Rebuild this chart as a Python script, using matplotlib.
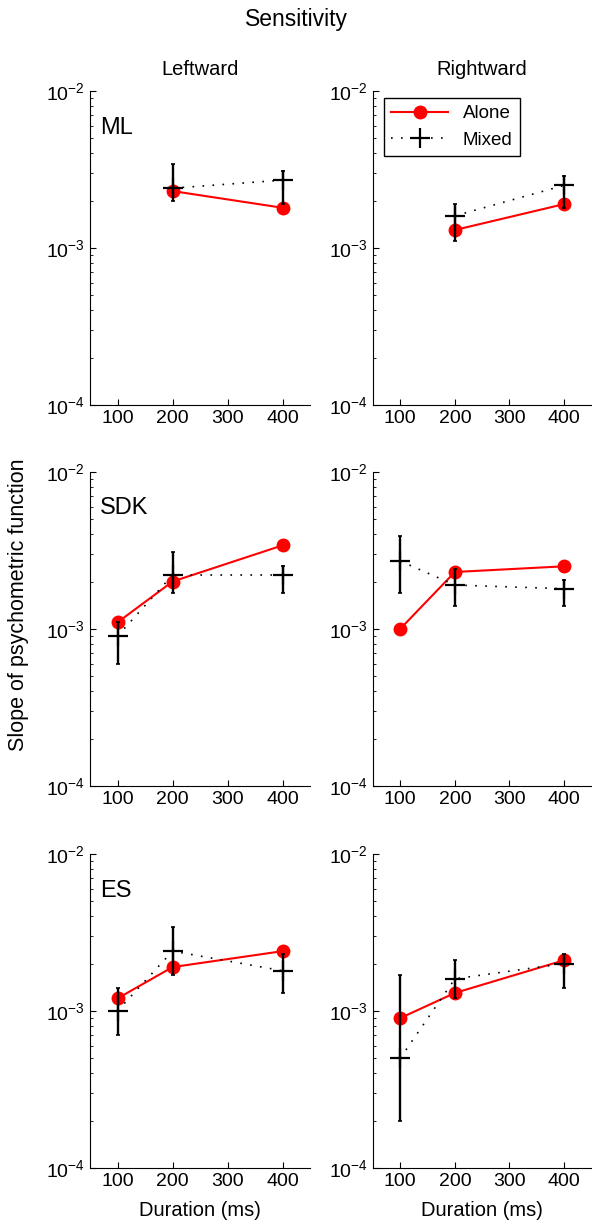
import numpy as np
import matplotlib.pyplot as plt
from matplotlib.ticker import LogLocator, NullFormatter

plt.rcParams['font.family'] = ['Liberation Sans', 'DejaVu Sans']
plt.rcParams['mathtext.fontset'] = 'custom'
plt.rcParams['mathtext.rm'] = 'Liberation Sans'

durations = [100, 200, 400]
subjects = ['ML', 'SDK', 'ES']
directions = ['Leftward', 'Rightward']

# alone condition, per subject: [leftward, rightward]; None = no data
alone_ml_left = [None, 2.3e-3, 1.8e-3]
alone_ml_right = [None, 1.3e-3, 1.9e-3]
alone_sdk_left = [1.1e-3, 2.0e-3, 3.4e-3]
alone_sdk_right = [1.0e-3, 2.3e-3, 2.5e-3]
alone_es_left = [1.2e-3, 1.9e-3, 2.4e-3]
alone_es_right = [0.9e-3, 1.3e-3, 2.1e-3]

# mixed condition with error bar limits (low, high)
mixed_ml_left = [None, 2.4e-3, 2.7e-3]
mixed_ml_left_lo = [None, 2.0e-3, 1.9e-3]
mixed_ml_left_hi = [None, 3.4e-3, 3.1e-3]
mixed_ml_right = [None, 1.6e-3, 2.5e-3]
mixed_ml_right_lo = [None, 1.1e-3, 1.8e-3]
mixed_ml_right_hi = [None, 1.9e-3, 2.85e-3]

mixed_sdk_left = [0.9e-3, 2.2e-3, 2.2e-3]
mixed_sdk_left_lo = [0.6e-3, 1.7e-3, 1.7e-3]
mixed_sdk_left_hi = [1.1e-3, 3.1e-3, 2.5e-3]
mixed_sdk_right = [2.7e-3, 1.9e-3, 1.8e-3]
mixed_sdk_right_lo = [1.7e-3, 1.4e-3, 1.4e-3]
mixed_sdk_right_hi = [3.9e-3, 2.4e-3, 2.05e-3]

mixed_es_left = [1.0e-3, 2.4e-3, 1.8e-3]
mixed_es_left_lo = [0.7e-3, 1.7e-3, 1.3e-3]
mixed_es_left_hi = [1.4e-3, 3.4e-3, 2.3e-3]
mixed_es_right = [0.5e-3, 1.6e-3, 2.0e-3]
mixed_es_right_lo = [0.2e-3, 1.2e-3, 1.4e-3]
mixed_es_right_hi = [1.7e-3, 2.1e-3, 2.3e-3]

alone = [[alone_ml_left, alone_ml_right],
         [alone_sdk_left, alone_sdk_right],
         [alone_es_left, alone_es_right]]
mixed = [[(mixed_ml_left, mixed_ml_left_lo, mixed_ml_left_hi),
          (mixed_ml_right, mixed_ml_right_lo, mixed_ml_right_hi)],
         [(mixed_sdk_left, mixed_sdk_left_lo, mixed_sdk_left_hi),
          (mixed_sdk_right, mixed_sdk_right_lo, mixed_sdk_right_hi)],
         [(mixed_es_left, mixed_es_left_lo, mixed_es_left_hi),
          (mixed_es_right, mixed_es_right_lo, mixed_es_right_hi)]]


def arr(v):
    return np.array([np.nan if a is None else a for a in v], dtype=float)


fig = plt.figure(figsize=(5.92, 12.3), dpi=100)

col_x = [0.152, 0.630]
col_w = [0.372, 0.369]
row_y = [0.6707, 0.361, 0.0504]
row_h = 0.2555

x = np.array(durations, dtype=float)
for r in range(3):
    for c in range(2):
        ax = fig.add_axes([col_x[c], row_y[r], col_w[c], row_h])
        a = arr(alone[r][c])
        m, lo, hi = [arr(v) for v in mixed[r][c]]
        ok_a = ~np.isnan(a)
        ok_m = ~np.isnan(m)
        la, = ax.plot(x[ok_a], a[ok_a], '-o', color='red', lw=1.5,
                      ms=9, mfc='red', mec='red', label='Alone', zorder=2)
        ax.errorbar(x[ok_m], m[ok_m],
                    yerr=[m[ok_m] - lo[ok_m], hi[ok_m] - m[ok_m]],
                    fmt='none', ecolor='black', elinewidth=1.7,
                    capsize=1.2, capthick=1.2, zorder=3)
        lm, = ax.plot(x[ok_m], m[ok_m], color='black', lw=1.2,
                      linestyle=(0, (1, 5)),
                      marker='+', ms=14, mew=1.6, label='Mixed', zorder=3)
        ax.set_yscale('log')
        ax.set_ylim(1e-4, 1e-2)
        ax.set_xlim(50, 450)
        ax.set_xticks([100, 200, 300, 400])
        ax.yaxis.set_major_locator(LogLocator(base=10, numticks=5))
        ax.yaxis.set_minor_locator(LogLocator(base=10, subs=np.arange(2, 10), numticks=20))
        ax.yaxis.set_minor_formatter(NullFormatter())
        ax.spines['top'].set_visible(False)
        ax.spines['right'].set_visible(False)
        for s in ['left', 'bottom']:
            ax.spines[s].set_linewidth(0.8)
        ax.tick_params(axis='both', which='major', direction='in', length=4,
                       width=0.8, labelsize=14)
        ax.tick_params(axis='y', which='minor', direction='in', length=2, width=0.6)
        if c == 0:
            ax.text(0.045, 0.883, subjects[r], transform=ax.transAxes,
                    fontsize=17, va='center', ha='left')
        if r == 0:
            ax.set_title(directions[c], fontsize=14.5, pad=11)
        if r == 2:
            ax.set_xlabel('Duration (ms)', fontsize=14.5, labelpad=8)
        if r == 0 and c == 1:
            ax.legend(handles=[la, lm], loc='upper left',
                      bbox_to_anchor=(0.05, 0.978), borderaxespad=0,
                      fontsize=13.5, handlelength=3.0, fancybox=False,
                      edgecolor='black', framealpha=1)

fig.text(0.5, 0.984, 'Sensitivity', ha='center', va='center', fontsize=16.5)
fig.text(0.032, 0.508, 'Slope of psychometric function', rotation=90,
         ha='center', va='center', fontsize=15.5)

plt.savefig('out.png', dpi=100)
